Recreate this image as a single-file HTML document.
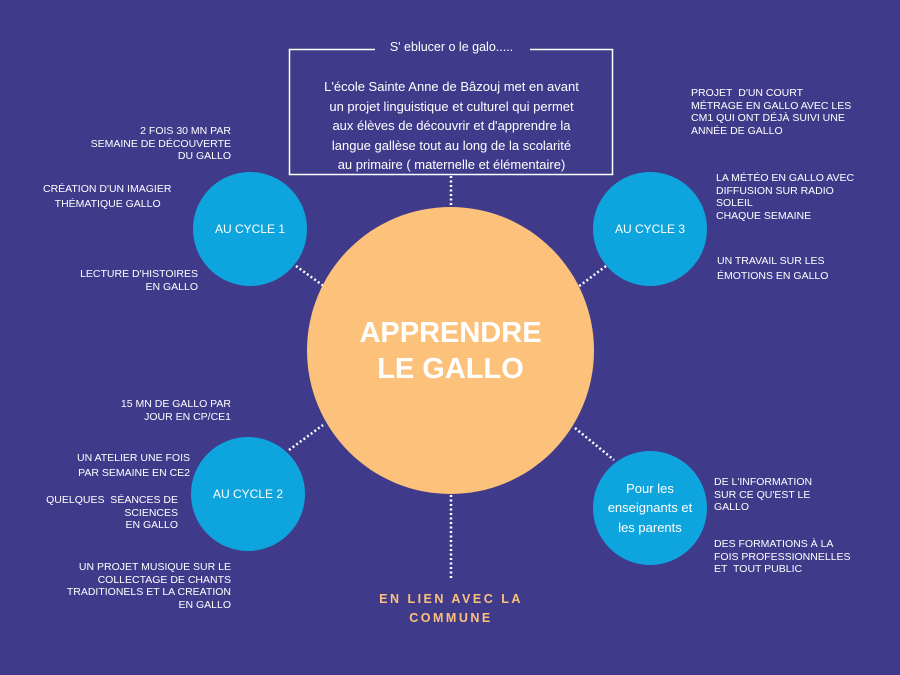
<!DOCTYPE html>
<html><head><meta charset="utf-8">
<style>
html,body{margin:0;padding:0}
body{width:900px;height:675px;background:#403a8b;position:relative;overflow:hidden;font-family:"Liberation Sans","DejaVu Sans",sans-serif;color:#fff}
.c{position:absolute;border-radius:50%;background:#0ea5df;display:flex;align-items:center;justify-content:center;text-align:center;font-size:12px}
.t{position:absolute;font-size:10.5px;line-height:12.5px;white-space:nowrap}
.r{text-align:right}
</style></head><body>
<svg width="900" height="675" style="position:absolute;left:0;top:0">
<g stroke="#fff" stroke-width="2.5" stroke-dasharray="2 2.5" fill="none">
<line x1="451" y1="176" x2="451" y2="208"/>
<line x1="451" y1="495" x2="451" y2="578"/>
<line x1="296" y1="266" x2="325" y2="287"/>
<line x1="606" y1="266" x2="578" y2="287"/>
<line x1="289" y1="450" x2="323" y2="425"/>
<line x1="575" y1="428" x2="614" y2="460"/>
</g>
<rect x="289.5" y="49.5" width="323" height="125" fill="none" stroke="#fff" stroke-width="1.5"/>
<rect x="375" y="40" width="155" height="18" fill="#403a8b"/>
</svg>
<div class="t" style="left:290px;top:41px;width:323px;text-align:center;font-size:12.5px">S' eblucer o le galo.....</div>
<div class="t" style="left:290px;top:77px;width:323px;text-align:center;font-size:13px;line-height:19.5px">L'école Sainte Anne de Bâzouj met en avant<br>un projet linguistique et culturel qui permet<br>aux élèves de découvrir et d'apprendre la<br>langue gallèse tout au long de la scolarité<br>au primaire ( maternelle et élémentaire)</div>
<div class="c" style="left:307px;top:207px;width:287px;height:287px;background:#fcc17a;font-size:29px;font-weight:bold;line-height:36px">APPRENDRE<br>LE GALLO</div>
<div class="c" style="left:193px;top:172px;width:114px;height:114px">AU CYCLE 1</div>
<div class="c" style="left:593px;top:172px;width:114px;height:114px">AU CYCLE 3</div>
<div class="c" style="left:191px;top:437px;width:114px;height:114px">AU CYCLE 2</div>
<div class="c" style="left:593px;top:451px;width:114px;height:114px;font-size:13px;line-height:19.5px">Pour les<br>enseignants et<br>les parents</div>
<div class="t r" style="right:669px;top:125px">2 FOIS 30 MN PAR<br>SEMAINE DE DÉCOUVERTE<br>DU GALLO</div>
<div class="t" style="left:43px;top:182px;line-height:15px">CRÉATION D'UN IMAGIER<br>&nbsp;&nbsp;&nbsp;&nbsp;THÉMATIQUE GALLO</div>
<div class="t r" style="right:702px;top:268px">LECTURE D'HISTOIRES<br>EN GALLO</div>
<div class="t r" style="right:669px;top:398px">15 MN DE GALLO PAR<br>JOUR EN CP/CE1</div>
<div class="t r" style="right:710px;top:451px;line-height:15px">UN ATELIER UNE FOIS<br>PAR SEMAINE EN CE2</div>
<div class="t r" style="right:722px;top:494px">QUELQUES&nbsp; SÉANCES DE<br>SCIENCES<br>EN GALLO</div>
<div class="t r" style="right:669px;top:561px">UN PROJET MUSIQUE SUR LE<br>COLLECTAGE DE CHANTS<br>TRADITIONELS ET LA CREATION<br>EN GALLO</div>
<div class="t" style="left:691px;top:87px">PROJET&nbsp; D'UN COURT<br>MÉTRAGE EN GALLO AVEC LES<br>CM1 QUI ONT DÉJÀ SUIVI UNE<br>ANNÉE DE GALLO</div>
<div class="t" style="left:716px;top:172px">LA MÉTÉO EN GALLO AVEC<br>DIFFUSION SUR RADIO<br>SOLEIL<br>CHAQUE SEMAINE</div>
<div class="t" style="left:717px;top:254px;line-height:15px">UN TRAVAIL SUR LES<br>ÉMOTIONS EN GALLO</div>
<div class="t" style="left:714px;top:476px">DE L'INFORMATION<br>SUR CE QU'EST LE<br>GALLO</div>
<div class="t" style="left:714px;top:538px">DES FORMATIONS À LA<br>FOIS PROFESSIONNELLES<br>ET&nbsp; TOUT PUBLIC</div>
<div class="t" style="left:360px;top:590px;width:182px;text-align:center;color:#fcc17a;font-weight:bold;font-size:12.5px;letter-spacing:2.5px;line-height:19px">EN LIEN AVEC LA<br>COMMUNE</div>
</body></html>
